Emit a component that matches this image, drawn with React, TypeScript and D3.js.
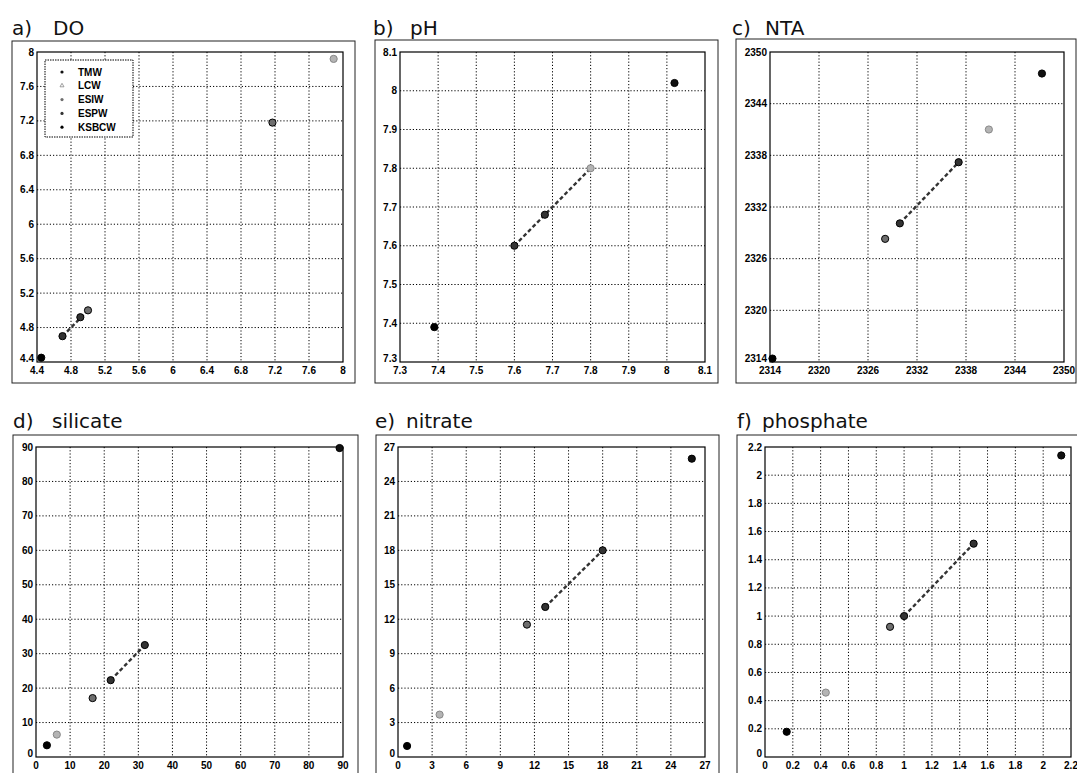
import React from 'react';
import * as d3 from 'd3';

// water masses shown in the legend of panel a
const waterMasses = ['TMW', 'LCW', 'ESIW', 'ESPW', 'KSBCW'];

// tick values for each panel (x and y share the same range)
const doTicks = [4.4, 4.8, 5.2, 5.6, 6, 6.4, 6.8, 7.2, 7.6, 8];
const phTicks = [7.3, 7.4, 7.5, 7.6, 7.7, 7.8, 7.9, 8, 8.1];
const ntaTicks = [2314, 2320, 2326, 2332, 2338, 2344, 2350];
const silicateTicks = [0, 10, 20, 30, 40, 50, 60, 70, 80, 90];
const nitrateTicks = [0, 3, 6, 9, 12, 15, 18, 21, 24, 27];
const phosphateTicks = [0, 0.2, 0.4, 0.6, 0.8, 1, 1.2, 1.4, 1.6, 1.8, 2, 2.2];

// [x, y, water mass]
type Pt = [number, number, string];

const doPoints: Pt[] = [
  [4.45, 4.45, 'KSBCW'],
  [4.7, 4.7, 'ESPW'],
  [4.91, 4.92, 'ESPW'],
  [5.0, 5.0, 'ESIW'],
  [7.17, 7.18, 'ESIW'],
  [7.89, 7.92, 'LCW'],
];
const phPoints: Pt[] = [
  [7.39, 7.39, 'KSBCW'],
  [7.6, 7.6, 'ESPW'],
  [7.68, 7.68, 'ESPW'],
  [7.8, 7.8, 'LCW'],
  [8.02, 8.02, 'TMW'],
];
const ntaPoints: Pt[] = [
  [2314.3, 2314.4, 'KSBCW'],
  [2328.1, 2328.3, 'ESIW'],
  [2329.9, 2330.1, 'ESPW'],
  [2337.1, 2337.2, 'ESPW'],
  [2340.8, 2341.0, 'LCW'],
  [2347.3, 2347.5, 'TMW'],
];
const silicatePoints: Pt[] = [
  [3.2, 3.4, 'KSBCW'],
  [6.1, 6.5, 'LCW'],
  [16.6, 17.1, 'ESIW'],
  [21.9, 22.3, 'ESPW'],
  [31.9, 32.5, 'ESPW'],
  [89, 89.7, 'TMW'],
];
const nitratePoints: Pt[] = [
  [0.8, 0.96, 'KSBCW'],
  [3.66, 3.69, 'LCW'],
  [11.34, 11.53, 'ESIW'],
  [12.95, 13.07, 'ESPW'],
  [18, 18, 'ESPW'],
  [25.84, 25.98, 'TMW'],
];
const phosphatePoints: Pt[] = [
  [0.156, 0.179, 'KSBCW'],
  [0.437, 0.457, 'LCW'],
  [0.899, 0.924, 'ESIW'],
  [1.0, 1.0, 'ESPW'],
  [1.5, 1.514, 'ESPW'],
  [2.13, 2.14, 'TMW'],
];

// dashed mixing segments
const doSegment = [[4.7, 4.7], [5.0, 5.0]];
const phSegment = [[7.6, 7.6], [7.8, 7.8]];
const ntaSegment = [[2329.9, 2330.1], [2337.1, 2337.2]];
const silicateSegment = [[21.9, 22.3], [31.9, 32.5]];
const nitrateSegment = [[12.95, 13.07], [18, 18]];
const phosphateSegment = [[1.0, 1.0], [1.5, 1.514]];

const panels = [
  { tag: 'a)', name: 'DO', ticks: doTicks, points: doPoints, segment: doSegment },
  { tag: 'b)', name: 'pH', ticks: phTicks, points: phPoints, segment: phSegment },
  { tag: 'c)', name: 'NTA', ticks: ntaTicks, points: ntaPoints, segment: ntaSegment },
  { tag: 'd)', name: 'silicate', ticks: silicateTicks, points: silicatePoints, segment: silicateSegment },
  { tag: 'e)', name: 'nitrate', ticks: nitrateTicks, points: nitratePoints, segment: nitrateSegment },
  { tag: 'f)', name: 'phosphate', ticks: phosphateTicks, points: phosphatePoints, segment: phosphateSegment },
];

// page layout
const plotBox = [
  { x0: 37, x1: 343, y0: 52, y1: 362 },
  { x0: 400, x1: 705, y0: 52, y1: 362 },
  { x0: 770, x1: 1064, y0: 52, y1: 362 },
  { x0: 36, x1: 343, y0: 447, y1: 757 },
  { x0: 398, x1: 705, y0: 447, y1: 757 },
  { x0: 765, x1: 1071, y0: 447, y1: 757 },
];
const frameBox = [
  { x0: 12, x1: 355, y0: 41, y1: 383 },
  { x0: 375, x1: 718, y0: 40, y1: 383 },
  { x0: 736, x1: 1076, y0: 39, y1: 383 },
  { x0: 13, x1: 358, y0: 435, y1: 790 },
  { x0: 376, x1: 719, y0: 435, y1: 790 },
  { x0: 737, x1: 1080, y0: 435, y1: 790 },
];
const titlePos = [
  { x: 12, y: 35, gap: 41 },
  { x: 373, y: 35, gap: 37 },
  { x: 732, y: 35, gap: 33 },
  { x: 13, y: 428, gap: 39 },
  { x: 375, y: 428, gap: 31 },
  { x: 737, y: 428, gap: 25 },
];

const shade: Record<string, string> = {
  TMW: '#111111',
  LCW: '#b4b4b4',
  ESIW: '#6e6e6e',
  ESPW: '#333333',
  KSBCW: '#000000',
};

const tickFont = '"Liberation Sans", Arial, sans-serif';
const titleFont = '"DejaVu Sans", sans-serif';

function Panel({ p, box, frame, title, legend }) {
  const [lo, hi] = d3.extent(p.ticks) as [number, number];
  const x = d3.scaleLinear().domain([lo, hi]).range([box.x0, box.x1]);
  const y = d3.scaleLinear().domain([lo, hi]).range([box.y1, box.y0]);
  const line = d3.line<number[]>().x(d => x(d[0])).y(d => y(d[1]));
  const inner = p.ticks.slice(1, -1);

  return (
    <g>
      <rect x={frame.x0} y={frame.y0} width={frame.x1 - frame.x0} height={frame.y1 - frame.y0}
        fill='none' stroke='#222' strokeWidth={1} />
      <text x={title.x} y={title.y} fontFamily={titleFont} fontSize={20} fill='#111'>{p.tag}</text>
      <text x={title.x + title.gap} y={title.y} fontFamily={titleFont} fontSize={20} fill='#111'>{p.name}</text>

      {/* grid */}
      {inner.map(t => (
        <g key={'g' + t}>
          <line x1={x(t)} x2={x(t)} y1={box.y0} y2={box.y1} stroke='#000' strokeWidth={1} strokeDasharray='1.2 2' />
          <line x1={box.x0} x2={box.x1} y1={y(t)} y2={y(t)} stroke='#000' strokeWidth={1} strokeDasharray='1.2 2' />
        </g>
      ))}
      <rect x={box.x0} y={box.y0} width={box.x1 - box.x0} height={box.y1 - box.y0}
        fill='none' stroke='#000' strokeWidth={1.2} />

      {/* tick labels */}
      {p.ticks.map((t, i) => (
        <g key={'t' + t} fontFamily={tickFont} fontSize={10} fontWeight='bold' fill='#000'>
          <text x={x(t)} y={box.y1 + 12} textAnchor='middle'>{String(t)}</text>
          <text x={box.x0 - 3} y={y(t) + 3.5 - (i === 0 ? 4 : 0)} textAnchor='end'>{String(t)}</text>
        </g>
      ))}

      {/* mixing line */}
      <path d={line(p.segment) || ''} fill='none' stroke='#333' strokeWidth={2.4} strokeDasharray='4 2.5' />

      {/* water-mass points */}
      {p.points.map((d, i) => (
        <circle key={'p' + i} cx={x(d[0])} cy={y(d[1])} r={3.6}
          fill={shade[d[2]]} stroke={d[2] === 'LCW' ? '#888' : '#000'} strokeWidth={1} />
      ))}

      {legend && (
        <g>
          <rect x={box.x0 + 8} y={box.y0 + 8} width={88} height={77} fill='#fff'
            stroke='#000' strokeWidth={1} strokeDasharray='1.5 1' />
          {waterMasses.map((w, i) => {
            const ly = box.y0 + 20 + i * 13.8;
            return (
              <g key={w}>
                {w === 'LCW'
                  ? <path d={`M${box.x0 + 25},${ly - 2.5} l2,3.5 h-4 z`} fill='none' stroke='#888' strokeWidth={0.8} />
                  : <circle cx={box.x0 + 25} cy={ly} r={1.6} fill={shade[w]} />}
                <text x={box.x0 + 41} y={ly + 3.5} fontFamily={tickFont} fontSize={10} fontWeight='bold'>{w}</text>
              </g>
            );
          })}
        </g>
      )}
    </g>
  );
}

export default function App() {
  return (
    <svg width={1077} height={773} viewBox='0 0 1077 773'
      style={{ position: 'absolute', left: 0, top: 0, background: '#fff' }}>
      <rect x={0} y={0} width={1077} height={773} fill='#fff' />
      {panels.map((p, i) => (
        <Panel key={p.name} p={p} box={plotBox[i]} frame={frameBox[i]} title={titlePos[i]} legend={i === 0} />
      ))}
    </svg>
  );
}
